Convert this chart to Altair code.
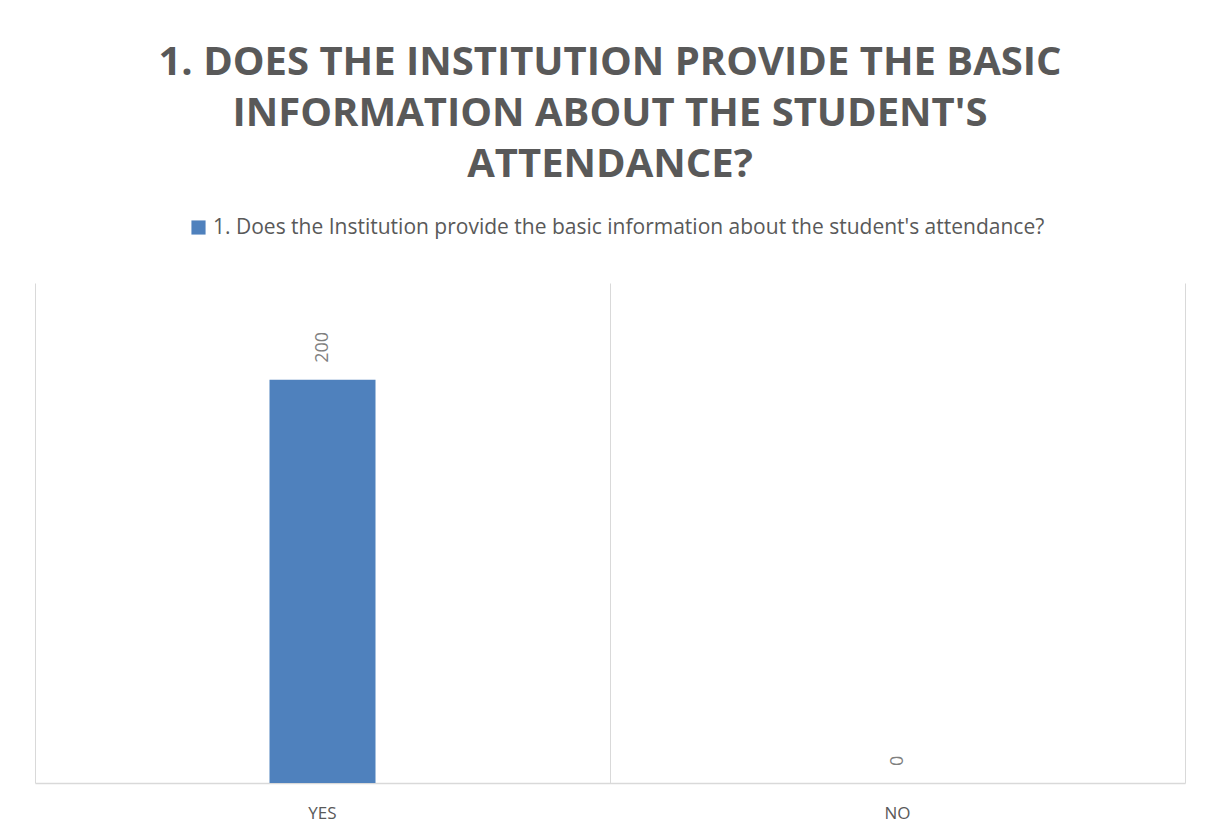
import altair as alt
import pandas as pd

categories = ["YES", "NO"]
counts = [200, 0]
series_name = "1. Does the Institution provide the basic information about the student's attendance?"
title_lines = ["1. DOES THE INSTITUTION PROVIDE THE BASIC",
               "INFORMATION ABOUT THE STUDENT'S",
               "ATTENDANCE?"]

df = pd.DataFrame({"answer": categories, "count": counts, "series": [series_name] * len(categories)})

FONT = "Open Sans"
GREY = "#595959"

x_enc = alt.X("answer:N", sort=categories, title=None,
              scale=alt.Scale(paddingInner=0, paddingOuter=0),
              axis=alt.Axis(labelAngle=0, labelFontSize=17, labelColor=GREY, labelFont=FONT,
                            labelPadding=22, ticks=False, domainColor="#d9d9d9", domainWidth=1.5,
                            grid=True, gridColor="#d9d9d9", bandPosition=0))
y_enc = alt.Y("count:Q", title=None, scale=alt.Scale(domain=[0, 248], nice=False),
              axis=alt.Axis(orient="right", labels=False, ticks=False, grid=False,
                            domainColor="#d9d9d9"))

bars = alt.Chart(df).mark_bar(size=106, color="#4f81bd").encode(
    x=x_enc, y=y_enc,
    color=alt.Color("series:N", scale=alt.Scale(range=["#4f81bd"]),
                    legend=alt.Legend(title=None, orient="none", legendX=153, legendY=-66,
                                      symbolType="square", symbolSize=200, symbolStrokeWidth=0,
                                      labelFontSize=21, labelFont=FONT, labelColor=GREY,
                                      labelLimit=1000)))

labels = alt.Chart(df).mark_text(angle=270, align="left", baseline="middle", dx=17,
                                 fontSize=18, font=FONT, color="#7f7f7f").encode(
    x=alt.X("answer:N", sort=categories), y="count:Q", text="count:Q")

chart = alt.layer(bars, labels).properties(
    width=1150, height=500,
    autosize=alt.AutoSizeParams(type="none"),
    padding={"left": 27, "top": 275, "right": 22, "bottom": 44},
    title=alt.TitleParams(text=title_lines, anchor="middle", frame="group", fontSize=40,
                          font=FONT, fontWeight="bold", color=GREY, lineHeight=51, offset=32),
).configure_view(stroke=None)

chart.save("out.html", embed_options={"renderer": "svg", "actions": False})
